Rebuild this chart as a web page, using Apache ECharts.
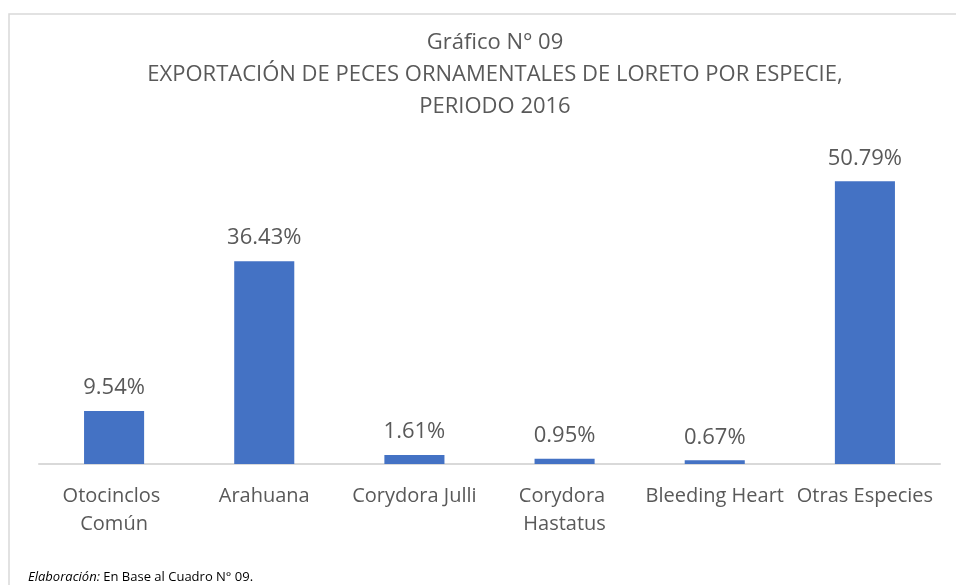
<!DOCTYPE html>
<html>
<head>
<meta charset="utf-8">
<script src="https://cdn.jsdelivr.net/npm/echarts@6/dist/echarts.min.js"></script>
<style>
  html, body { margin: 0; padding: 0; background: #fff; }
  #chart { width: 956px; height: 585px; }
</style>
</head>
<body>
<div id="chart"></div>
<script>
// Datos del gráfico (porcentaje de exportación por especie, 2016)
const categories = ["Otocinclos Común", "Arahuana", "Corydora Julli", "Corydora Hastatus", "Bleeding Heart", "Otras Especies"];
const shares = [9.54, 36.43, 1.61, 0.95, 0.67, 50.79];
const titleLines = ["Gráfico N° 09", "EXPORTACIÓN DE PECES ORNAMENTALES DE LORETO POR ESPECIE,", "PERIODO 2016"];

const FONT = "'Open Sans', 'Noto Sans', sans-serif";
const GRAY = "#595959";

const chart = echarts.init(document.getElementById("chart"), null, { renderer: "canvas" });

chart.setOption({
  backgroundColor: "#fff",
  animation: false,
  textStyle: { fontFamily: FONT },
  title: {
    text: titleLines.join("\n"),
    left: 490,
    textAlign: "center",
    top: 22,
    textStyle: { fontFamily: FONT, fontSize: 22, fontWeight: "normal", color: GRAY, lineHeight: 32 },
  },
  grid: { left: 39, right: 16, top: 130, bottom: 121, containLabel: false },
  xAxis: {
    type: "category",
    data: categories,
    axisLine: { lineStyle: { color: "#d9d9d9", width: 2 } },
    axisTick: { show: false },
    axisLabel: {
      color: GRAY, fontSize: 20, fontFamily: FONT, margin: 18, lineHeight: 28,
      width: 150, overflow: "break", interval: 0,
    },
  },
  yAxis: {
    type: "value",
    min: 0,
    max: 60,
    show: false,
    splitLine: { show: false },
  },
  series: [{
    type: "bar",
    data: shares,
    barWidth: "40%",
    itemStyle: { color: "#4472C4" },
    label: {
      show: true,
      position: "top",
      distance: 12,
      color: GRAY,
      fontSize: 22,
      fontFamily: FONT,
      formatter: function (p) { return p.value.toFixed(2) + "%"; },
    },
  }],
  graphic: [
    {
      type: "rect",
      shape: { x: 9, y: 14, width: 960, height: 600 },
      style: { fill: "none", stroke: "#d9d9d9", lineWidth: 1.5 },
      silent: true,
    },
    {
      type: "text",
      left: 28,
      top: 571,
      style: {
        text: "{i|Elaboración:} En Base al Cuadro N° 09.",
        rich: {
          i: { fontStyle: "italic", fontSize: 13, fontFamily: FONT, fill: "#000" },
        },
        fontSize: 13,
        fontFamily: FONT,
        fill: "#000",
      },
    },
  ],
});
</script>
</body>
</html>
